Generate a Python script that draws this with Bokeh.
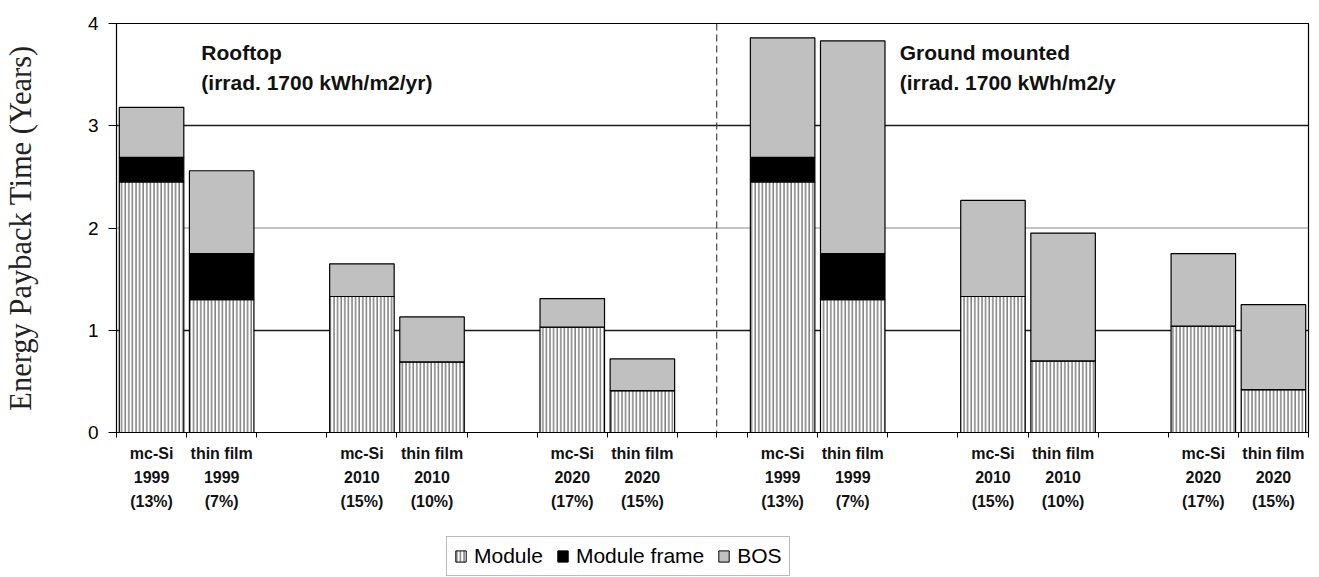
from bokeh.plotting import figure
from bokeh.layouts import column
from bokeh.models import FixedTicker, Span, Legend, LegendItem, ColumnDataSource
from bokeh.core.properties import value
from bokeh.embed import file_html
from bokeh.resources import INLINE

# ---- data ----
labels = ["mc-Si\n1999\n(13%)", "thin film\n1999\n(7%)",
          "mc-Si\n2010\n(15%)", "thin film\n2010\n(10%)",
          "mc-Si\n2020\n(17%)", "thin film\n2020\n(15%)",
          "mc-Si\n1999\n(13%)", "thin film\n1999\n(7%)",
          "mc-Si\n2010\n(15%)", "thin film\n2010\n(10%)",
          "mc-Si\n2020\n(17%)", "thin film\n2020\n(15%)"]
slots = [0, 1, 3, 4, 6, 7, 9, 10, 12, 13, 15, 16]   # 17 slots, blanks between groups
module = [2.45, 1.30, 1.33, 0.69, 1.03, 0.41, 2.45, 1.30, 1.33, 0.70, 1.04, 0.42]
module_frame = [0.24, 0.45, 0.0, 0.0, 0.0, 0.0, 0.24, 0.45, 0.0, 0.0, 0.0, 0.0]
bos = [0.49, 0.81, 0.32, 0.44, 0.28, 0.31, 1.17, 2.08, 0.94, 1.25, 0.71, 0.83]
series = ["Module", "Module frame", "BOS"]
y_ticks = [0, 1, 2, 3, 4]
dark_grid = [1, 3]
light_grid = [2]
panel_titles = ["Rooftop", "(irrad. 1700 kWh/m2/yr)", "Ground mounted", "(irrad. 1700 kWh/m2/y"]
y_label = "Energy Payback Time (Years)"

# ---- styles ----
fills = ["white", "black", "#c0c0c0"]
hatches = ["vertical_line", " ", " "]
HATCH = dict(hatch_color="#505050", hatch_scale=3.6, hatch_weight=1.1)

N_SLOTS = 17
centers = [s + 0.5 for s in slots]
src = ColumnDataSource(dict(x=centers, Module=module, BOS=bos))
src.data["Module frame"] = module_frame

p = figure(width=1312, height=525, output_backend="svg", toolbar_location=None,
           x_range=(0, N_SLOTS), y_range=(0, 4),
           min_border_left=115, min_border_right=4, min_border_top=23, min_border_bottom=93)

W = 0.92
r = p.vbar_stack(series, x="x", width=W, source=src,
                 fill_color=fills, line_color="black", line_width=1.2,
                 hatch_pattern=hatches, **HATCH)

# grid / frame
p.xgrid.visible = False
p.ygrid.ticker = FixedTicker(ticks=dark_grid)
p.ygrid.grid_line_color = "#1a1a1a"
p.ygrid.grid_line_width = 1.6
for g in light_grid:
    p.add_layout(Span(location=g, dimension="width", line_color="#8a8a8a",
                      line_width=1.2, level="underlay"))
p.outline_line_color = "black"
p.outline_line_width = 1.2
p.background_fill_color = "white"

# y axis
p.yaxis.ticker = FixedTicker(ticks=y_ticks)
p.yaxis.major_tick_out = 8
p.yaxis.major_tick_in = 0
p.yaxis.minor_tick_line_color = None
p.yaxis.major_label_standoff = 10
p.yaxis.major_label_text_font = "Liberation Sans"
p.yaxis.major_label_text_font_size = "19px"
p.yaxis.major_label_text_color = "black"
p.yaxis.axis_line_color = "black"
p.yaxis.axis_label = y_label
p.yaxis.axis_label_text_font = "Liberation Serif"
p.yaxis.axis_label_text_font_style = "normal"
p.yaxis.axis_label_text_font_size = "30.5px"
p.yaxis.axis_label_text_color = "#222222"
p.yaxis.axis_label_standoff = 47

# x axis: labels at bar centres, small ticks at slot boundaries
boundaries = list(range(0, N_SLOTS + 1)) + [8.56]
p.xaxis.ticker = FixedTicker(ticks=centers, minor_ticks=boundaries)
p.xaxis.major_label_overrides = {c: l for c, l in zip(centers, labels)}
p.xaxis.major_tick_line_color = None
p.xaxis.major_tick_out = 0
p.xaxis.minor_tick_out = 5
p.xaxis.minor_tick_in = 0
p.xaxis.minor_tick_line_color = "black"
p.xaxis.axis_line_color = "black"
p.xaxis.axis_line_width = 1.2
p.xaxis.major_label_standoff = 7
p.xaxis.major_label_text_font = "Liberation Sans"
p.xaxis.major_label_text_font_style = "bold"
p.xaxis.major_label_text_font_size = "16px"
p.xaxis.major_label_text_line_height = 1.42
p.xaxis.major_label_text_color = "#111111"

# dashed separator
p.add_layout(Span(location=8.56, dimension="height", line_color="#444444",
                  line_dash="7 4", line_width=1.2))

# panel titles
px = [1.21, 1.21, 11.17, 11.17]
py = [3.72, 3.42, 3.72, 3.42]
p.text(x=px, y=py, text=panel_titles, text_font=value("Liberation Sans"),
       text_font_style="bold", text_font_size="21px", text_color="#111111",
       text_baseline="alphabetic", text_align="left")

# ---- legend strip below the chart (legend keys only, off-range) ----
lg = figure(width=1312, height=52, output_backend="svg", toolbar_location=None,
            x_range=(0, 1), y_range=(0, 1), min_border=0,
            x_axis_location=None, y_axis_location=None, outline_line_color=None)
lg.grid.visible = False
key_src = ColumnDataSource(dict(x=[-5.0], top=[0.0]))
keys = [lg.vbar(x="x", top="top", width=0.5, source=key_src, fill_color=f,
                line_color="black", line_width=1, hatch_pattern=h, **HATCH)
        for f, h in zip(fills, hatches)]
legend = Legend(items=[LegendItem(label=s, renderers=[k]) for s, k in zip(series, keys)],
                orientation="horizontal", location=(330, 1),
                label_text_font="Liberation Sans", label_text_font_size="21px",
                label_standoff=7, spacing=13, glyph_width=13, glyph_height=14,
                border_line_color="#777777", padding=7, margin=0,
                label_text_color="black")
lg.add_layout(legend, "center")

open("out.html", "w").write(file_html(column(p, lg, spacing=0), INLINE))
